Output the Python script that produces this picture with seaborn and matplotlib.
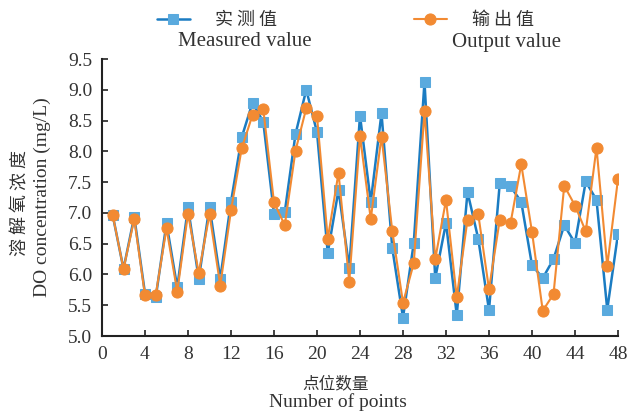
import numpy as np
import pandas as pd
import matplotlib
matplotlib.use("Agg")
import matplotlib.pyplot as plt
import seaborn as sns

points = list(range(1, 49))
measured = [6.96, 6.09, 6.94, 5.69, 5.63, 6.83, 5.79, 7.09, 5.93, 7.10,
            5.93, 7.18, 8.23, 8.79, 8.48, 6.99, 7.01, 8.28, 9.00, 8.31,
            6.35, 7.37, 6.11, 8.58, 7.18, 8.62, 6.43, 5.30, 6.51, 9.13,
            5.94, 6.84, 5.34, 7.34, 6.58, 5.42, 7.48, 7.43, 7.18, 6.15,
            5.94, 6.25, 6.80, 6.51, 7.51, 7.21, 5.43, 6.66]
output = [6.96, 6.09, 6.90, 5.66, 5.67, 6.75, 5.72, 6.99, 6.02, 6.98,
          5.82, 7.04, 8.05, 8.59, 8.69, 7.17, 6.80, 8.01, 8.70, 8.57,
          6.58, 7.65, 5.88, 8.25, 6.90, 8.24, 6.71, 5.54, 6.18, 8.65,
          6.25, 7.21, 5.63, 6.89, 6.98, 5.76, 6.89, 6.83, 7.79, 6.69,
          5.41, 5.68, 7.44, 7.12, 6.70, 8.06, 6.14, 7.55]
xticks = list(range(0, 49, 4))
yticks = [5.0, 5.5, 6.0, 6.5, 7.0, 7.5, 8.0, 8.5, 9.0, 9.5]

sns.set_theme(style="white")
plt.rcParams['font.family'] = ['Liberation Serif', 'Noto Sans CJK SC']

W, H = 637, 415
fig = plt.figure(figsize=(W / 100, H / 100), dpi=100)
ax = fig.add_axes([102 / W, 1 - 336 / H, (618 - 102) / W, (336 - 59) / H])

blue_line = "#1b7cc2"
blue_mark = "#5aaade"
orange = "#f28a32"

sns.lineplot(x=points, y=measured, ax=ax, color=blue_line, linewidth=1.8,
             marker="s", markersize=6.5, markerfacecolor=blue_mark,
             markeredgecolor=blue_mark, label="实 测 值", zorder=2)
sns.lineplot(x=points, y=output, ax=ax, color=orange, linewidth=1.5,
             marker="o", markersize=8, markerfacecolor=orange,
             markeredgecolor=orange, label="输 出 值", zorder=3)

ax.set_xlim(0, 48)
ax.set_ylim(5.0, 9.5)
ax.set_xticks(xticks)
ax.set_yticks(yticks)
ax.set_yticklabels([f"{v:.1f}" for v in yticks])
ax.set_xlabel("")
ax.set_ylabel("")
for s in ["top", "right"]:
    ax.spines[s].set_visible(False)
for s in ["left", "bottom"]:
    ax.spines[s].set_color("#222222")
    ax.spines[s].set_linewidth(1.5)
ax.tick_params(axis="both", direction="in", length=4, width=1.2,
               colors="#222222", labelsize=14, pad=7,
               left=True, bottom=True)
for lab in ax.get_xticklabels() + ax.get_yticklabels():
    lab.set_color("#333333")

handles, labels = ax.get_legend_handles_labels()
ax.legend(handles, labels, ncol=2, frameon=False, loc="center left",
          bbox_to_anchor=(157 / W, 1 - 20 / H), bbox_transform=fig.transFigure,
          borderaxespad=0, borderpad=0, handlelength=1.8, handletextpad=1.4,
          columnspacing=7.6, prop={"family": "Noto Sans CJK SC", "size": 13},
          labelcolor="#333333")

fig.text(245 / W, 1 - 42 / H, "Measured value", ha="center", va="center",
         fontsize=15, color="#333333", family="Liberation Serif")
fig.text(506 / W, 1 - 42 / H, "Output value", ha="center", va="center",
         fontsize=15, color="#333333", family="Liberation Serif")

fig.text(336 / W, 1 - 384 / H, "点位数量", ha="center", va="center",
         fontsize=12, color="#333333", family="Noto Sans CJK SC")
fig.text(338 / W, 1 - 402 / H, "Number of points", ha="center", va="center",
         fontsize=14, color="#333333", family="Liberation Serif")
fig.text(20 / W, 1 - 203 / H, "溶 解 氧 浓 度", ha="center", va="center",
         rotation=90, fontsize=13, color="#333333", family="Noto Sans CJK SC")
fig.text(42 / W, 1 - 197 / H, "DO concentration (mg/L)", ha="center",
         va="center", rotation=90, fontsize=14, color="#333333",
         family="Liberation Serif")

fig.savefig("out.png", dpi=100)
